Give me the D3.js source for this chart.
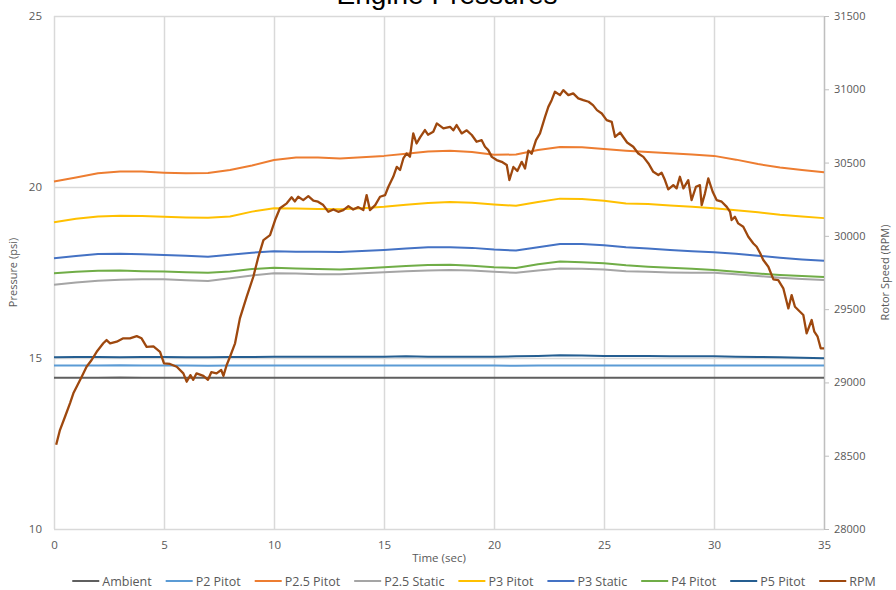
<!DOCTYPE html>
<html>
<head>
<meta charset="utf-8">
<script src="https://cdn.jsdelivr.net/npm/d3@7"></script>
<style>
  body { margin: 0; background: #fff; }
  svg text { font-family: "Open Sans", sans-serif; fill: #595959; }
</style>
</head>
<body>
<svg id="chart" width="896" height="590"></svg>
<script>
// time axis (sec) for the pressure traces
var timeSec = [0,1,2,3,4,5,6,7,8,9,10,11,12,13,14,15,16,17,18,19,20,21,22,23,24,25,26,27,28,29,30,31,32,33,34,35];

// pressures (psi)
var ambient   = [14.42,14.42,14.42,14.43,14.42,14.42,14.42,14.42,14.42,14.42,14.42,14.42,14.42,14.42,14.42,14.42,14.42,14.42,14.42,14.42,14.42,14.42,14.42,14.42,14.42,14.42,14.42,14.42,14.42,14.42,14.42,14.42,14.42,14.42,14.42,14.42];
var p2Pitot   = [14.78,14.78,14.78,14.79,14.78,14.78,14.78,14.77,14.78,14.78,14.78,14.78,14.78,14.78,14.78,14.78,14.78,14.78,14.78,14.78,14.78,14.77,14.78,14.78,14.78,14.78,14.78,14.78,14.78,14.78,14.78,14.78,14.78,14.78,14.78,14.78];
var p25Pitot  = [20.16,20.28,20.40,20.45,20.45,20.42,20.40,20.41,20.50,20.63,20.79,20.86,20.86,20.83,20.87,20.91,20.97,21.04,21.06,21.02,20.94,20.95,21.08,21.17,21.16,21.11,21.06,21.02,20.99,20.95,20.91,20.80,20.67,20.57,20.50,20.43];
var p25Static = [17.14,17.21,17.26,17.29,17.30,17.30,17.27,17.25,17.33,17.41,17.48,17.47,17.45,17.45,17.48,17.51,17.54,17.56,17.57,17.56,17.52,17.49,17.56,17.62,17.61,17.59,17.54,17.52,17.50,17.49,17.49,17.45,17.40,17.35,17.31,17.28];
var p3Pitot   = [18.97,19.07,19.14,19.16,19.15,19.13,19.11,19.10,19.14,19.28,19.38,19.37,19.36,19.35,19.38,19.42,19.48,19.53,19.56,19.54,19.49,19.45,19.56,19.66,19.65,19.60,19.52,19.50,19.46,19.42,19.38,19.32,19.26,19.19,19.14,19.09];
var p3Static  = [17.92,17.98,18.04,18.05,18.03,18.01,17.99,17.96,18.02,18.08,18.12,18.11,18.11,18.10,18.13,18.16,18.20,18.24,18.24,18.22,18.17,18.14,18.24,18.33,18.33,18.30,18.24,18.20,18.16,18.12,18.09,18.05,17.99,17.93,17.88,17.84];
var p4Pitot   = [17.48,17.52,17.55,17.56,17.54,17.53,17.51,17.49,17.53,17.60,17.64,17.62,17.60,17.59,17.62,17.65,17.69,17.72,17.73,17.70,17.65,17.63,17.74,17.82,17.80,17.77,17.71,17.67,17.64,17.61,17.57,17.52,17.47,17.43,17.40,17.37];
var p5Pitot   = [15.02,15.03,15.03,15.02,15.03,15.03,15.02,15.02,15.03,15.03,15.04,15.04,15.04,15.04,15.04,15.04,15.05,15.04,15.04,15.04,15.04,15.05,15.06,15.08,15.07,15.06,15.06,15.06,15.05,15.05,15.05,15.04,15.03,15.02,15.01,14.99];

// rotor speed (RPM), sampled where the trace turns
var rpmTime = [0.1,0.27,0.5,0.73,0.88,1.03,1.26,1.48,1.71,1.94,2.24,2.39,2.55,2.85,3.15,3.45,3.76,3.98,4.21,4.52,4.82,5.0,5.27,5.58,5.88,6.03,6.2,6.33,6.48,6.79,7.0,7.15,7.39,7.6,7.7,7.85,8.0,8.23,8.45,8.76,9.06,9.29,9.52,9.82,10.05,10.27,10.58,10.8,10.95,11.1,11.33,11.56,11.79,12.0,12.24,12.47,12.7,12.92,13.15,13.38,13.6,13.83,14.06,14.21,14.36,14.6,14.82,15.05,15.2,15.42,15.58,15.73,15.88,16.03,16.18,16.33,16.48,16.64,16.86,17.0,17.24,17.4,17.7,18.0,18.15,18.3,18.53,18.76,18.99,19.21,19.44,19.59,19.74,19.9,20.12,20.35,20.58,20.7,20.88,21.06,21.26,21.41,21.56,21.71,21.91,22.09,22.32,22.47,22.62,22.77,23.0,23.15,23.38,23.6,23.83,24.06,24.3,24.5,24.68,24.9,25.12,25.35,25.5,25.73,26.05,26.33,26.56,26.79,27.02,27.24,27.47,27.62,27.77,27.92,28.15,28.3,28.45,28.61,28.83,28.98,29.18,29.36,29.44,29.59,29.74,29.94,30.12,30.35,30.58,30.73,30.8,30.95,31.1,31.33,31.56,31.79,31.94,32.1,32.24,32.47,32.7,32.92,33.15,33.38,33.53,33.68,33.91,34.06,34.21,34.44,34.56,34.71,34.85,35.0];
var rpm     = [28575,28675,28766,28859,28926,28971,29039,29107,29153,29209,29267,29289,29267,29278,29301,29301,29316,29301,29243,29246,29209,29130,29126,29107,29062,29005,29050,29018,29062,29045,29018,29070,29062,29085,29045,29119,29175,29267,29437,29585,29721,29857,29971,30005,30108,30188,30222,30263,30235,30267,30244,30271,30240,30233,30210,30164,30180,30164,30176,30203,30180,30196,30176,30278,30176,30210,30267,30278,30335,30403,30471,30449,30528,30562,30540,30699,30630,30672,30722,30690,30710,30767,30733,30744,30720,30756,30699,30720,30688,30642,30653,30608,30585,30539,30517,30505,30483,30381,30470,30443,30505,30460,30581,30560,30653,30699,30812,30880,30926,30983,30960,30994,30960,30972,30938,30926,30915,30892,30858,30835,30790,30778,30676,30705,30637,30608,30562,30539,30494,30437,30415,30430,30381,30317,30346,30324,30403,30324,30380,30244,30335,30346,30210,30290,30392,30301,30244,30233,30198,30164,30108,30130,30085,30062,29994,29948,29926,29881,29835,29789,29703,29698,29642,29505,29596,29516,29482,29460,29335,29426,29346,29312,29233,29233];

var pressureTicks = [10,15,20,25];
var rpmTicks = [28000,28500,29000,29500,30000,30500,31000,31500];
var timeTicks = [0,5,10,15,20,25,30,35];

var seriesNames = ["Ambient","P2 Pitot","P2.5 Pitot","P2.5 Static","P3 Pitot","P3 Static","P4 Pitot","P5 Pitot","RPM"];
var seriesData = [ambient,p2Pitot,p25Pitot,p25Static,p3Pitot,p3Static,p4Pitot,p5Pitot];
var colors = ["#5f5f5f","#5b9bd5","#ed7d31","#a5a5a5","#ffc000","#4472c4","#70ad47","#255e91","#9e480e"];

var svg = d3.select("#chart");
var plotLeft = 54, plotRight = 824, plotTop = 16, plotBottom = 529;

var x = d3.scaleLinear().domain([0,35]).range([plotLeft,plotRight]);
var yL = d3.scaleLinear().domain([10,25]).range([plotBottom,plotTop]);
var yR = d3.scaleLinear().domain([28000,31500]).range([plotBottom,plotTop]);

// title, mostly cut off at the top edge
svg.append("text")
  .attr("x", 447).attr("y", 4)
  .attr("text-anchor", "middle")
  .style("font-family", "'Liberation Sans', Arial, sans-serif")
  .style("font-size", "28px")
  .style("fill", "#000")
  .text("Engine Pressures");

// vertical gridlines + x labels
var gx = svg.append("g")
  .attr("transform", "translate(0," + plotBottom + ")")
  .call(d3.axisBottom(x).tickValues(timeTicks).tickSize(-(plotBottom - plotTop)).tickPadding(12));
gx.select(".domain").remove();
gx.selectAll("line").attr("stroke", "#d9d9d9").attr("stroke-width", 1.5);
gx.selectAll("text").style("font-size", "11.5px").style("fill", "#595959");

// horizontal gridlines + left labels
var gy = svg.append("g")
  .attr("transform", "translate(" + plotLeft + ",0)")
  .call(d3.axisLeft(yL).tickValues(pressureTicks).tickSize(-(plotRight - plotLeft)).tickPadding(12));
gy.select(".domain").remove();
gy.selectAll("line").attr("stroke", "#d9d9d9").attr("stroke-width", 1.5);
gy.selectAll("text").style("font-size", "11.5px").style("fill", "#595959");

// right axis
var gr = svg.append("g")
  .attr("transform", "translate(" + plotRight + ",0)")
  .call(d3.axisRight(yR).tickValues(rpmTicks).tickSize(5).tickSizeOuter(0).tickPadding(5).tickFormat(d3.format("d")));
gr.select(".domain").attr("stroke", "#bfbfbf").attr("stroke-width", 1.3);
gr.selectAll("line").attr("stroke", "#bfbfbf");
gr.selectAll("text").style("font-size", "11px").style("fill", "#595959");

// axis titles
svg.append("text")
  .attr("transform", "translate(17," + ((plotTop + plotBottom) / 2) + ") rotate(-90)")
  .attr("text-anchor", "middle")
  .style("font-size", "11px")
  .text("Pressure (psi)");

svg.append("text")
  .attr("transform", "translate(889," + ((plotTop + plotBottom) / 2) + ") rotate(-90)")
  .attr("text-anchor", "middle")
  .style("font-size", "11px")
  .text("Rotor Speed (RPM)");

svg.append("text")
  .attr("x", 439).attr("y", 562)
  .attr("text-anchor", "middle")
  .style("font-size", "11.5px")
  .text("Time (sec)");

// pressure lines
var pline = d3.line()
  .x(function(d, i) { return x(timeSec[i]); })
  .y(function(d) { return yL(d); });

svg.append("g").selectAll("path")
  .data(seriesData)
  .enter().append("path")
    .attr("d", pline)
    .attr("fill", "none")
    .attr("stroke", function(d, i) { return colors[i]; })
    .attr("stroke-width", 2)
    .attr("stroke-linejoin", "round");

// rpm line on the right axis
var rline = d3.line()
  .x(function(d, i) { return x(rpmTime[i]); })
  .y(function(d) { return yR(d); });

svg.append("path")
  .datum(rpm)
  .attr("d", rline)
  .attr("fill", "none")
  .attr("stroke", colors[8])
  .attr("stroke-width", 2.3)
  .attr("stroke-linejoin", "round");

// legend along the bottom
var legend = svg.append("g").attr("class", "legend");
var lx = 0;
seriesNames.forEach(function(name, i) {
  var item = legend.append("g").attr("transform", "translate(" + lx + ",0)");
  item.append("line")
    .attr("x1", 0).attr("x2", 27).attr("y1", 0).attr("y2", 0)
    .attr("stroke", colors[i]).attr("stroke-width", 2);
  var t = item.append("text")
    .attr("x", 30).attr("y", 4.5)
    .style("font-size", "12.5px")
    .text(name);
  lx += 30 + t.node().getComputedTextLength() + 14;
});
lx -= 14;
legend.attr("transform", "translate(" + (474 - lx / 2) + ",581)");
</script>
</body>
</html>
